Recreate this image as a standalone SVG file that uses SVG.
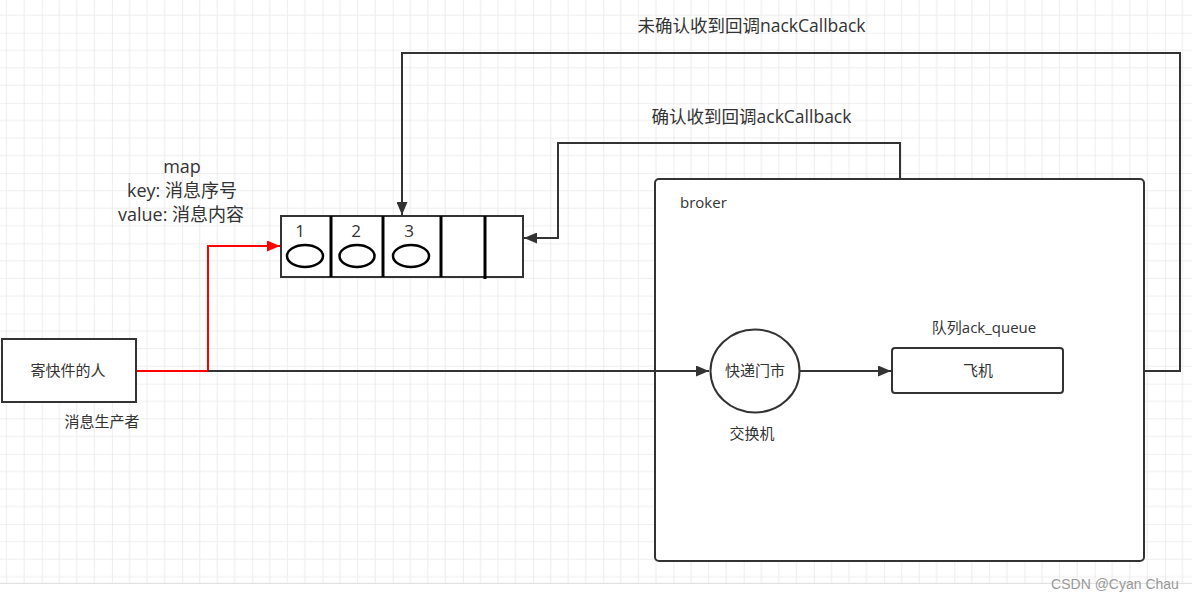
<svg xmlns="http://www.w3.org/2000/svg" width="1192" height="601" viewBox="0 0 1192 601">
<style>
.t{font-family:"Open Sans","Noto Sans CJK SC",sans-serif;fill:#333;}
.ln{fill:none;stroke:#333;stroke-width:2;}
.red{fill:none;stroke:#ff0000;stroke-width:2;}
.box{fill:#fff;stroke:#333;stroke-width:2;}
.div{stroke:#000;stroke-width:3;}
.ell{fill:none;stroke:#000;stroke-width:2.5;}
</style>
<defs>
<pattern id="grid" patternUnits="userSpaceOnUse" x="41.7" y="32.7" width="70.2" height="70.2">
<path d="M17.55,0V70.2M35.1,0V70.2M52.65,0V70.2M0,17.55H70.2M0,35.1H70.2M0,52.65H70.2" stroke="#eeeeee" stroke-width="1.2" fill="none"/>
<path d="M0,0V70.2M0,0H70.2" stroke="#e2e2e2" stroke-width="1.2" fill="none"/>
</pattern>
<marker id="ah" markerUnits="userSpaceOnUse" markerWidth="13" markerHeight="11" refX="13" refY="5.5" orient="auto"><path d="M0,0L13,5.5L0,11z" fill="#333"/></marker>
<marker id="ahr" markerUnits="userSpaceOnUse" markerWidth="13" markerHeight="11" refX="13" refY="5.5" orient="auto"><path d="M0,0L13,5.5L0,11z" fill="#ff0000"/></marker>
</defs>
<rect x="0" y="0" width="1192" height="601" fill="#fff"/>
<rect x="0" y="0" width="1192" height="583" fill="url(#grid)"/>
<line x1="0" y1="583.3" x2="1192" y2="583.3" stroke="#e2e2e2" stroke-width="1.2"/>

<g id="broker">
<rect class="box" x="655" y="179" width="489" height="382" rx="4"/>
<text class="t" x="680" y="208" font-size="15">broker</text>
</g>

<g id="connectors">
<path class="red" d="M136,371H208V246H280" marker-end="url(#ahr)"/>
<path class="ln" d="M208,371H709" marker-end="url(#ah)"/>
<path class="ln" d="M800,371H891" marker-end="url(#ah)"/>
<path class="ln" d="M900,179V143H558V238H524" marker-end="url(#ah)"/>
<path class="ln" d="M1144,371H1180V53H402V215" marker-end="url(#ah)"/>
</g>

<g id="producer">
<rect class="box" x="2" y="339" width="134" height="63"/>
<text class="t" x="68" y="376" font-size="15" text-anchor="middle">寄快件的人</text>
<text class="t" x="102" y="427" font-size="15" text-anchor="middle">消息生产者</text>
</g>

<g id="map">
<text class="t" x="182" y="173" font-size="18" text-anchor="middle">map</text>
<text class="t" x="182" y="197" font-size="18" text-anchor="middle">key: 消息序号</text>
<text class="t" x="181" y="221" font-size="18" text-anchor="middle">value: 消息内容</text>
<rect class="box" x="281" y="216" width="242" height="61"/>
<line class="div" x1="331" y1="216" x2="331" y2="277"/>
<line class="div" x1="383" y1="216" x2="383" y2="277"/>
<line class="div" x1="441" y1="216" x2="441" y2="277"/>
<line class="div" x1="485" y1="216" x2="485" y2="279"/>
<ellipse class="ell" cx="305" cy="256" rx="18" ry="11"/>
<ellipse class="ell" cx="357" cy="256" rx="17.5" ry="11"/>
<ellipse class="ell" cx="411" cy="256" rx="18" ry="11"/>
<text class="t" x="300" y="237" font-size="17" text-anchor="middle">1</text>
<text class="t" x="356" y="237" font-size="17" text-anchor="middle">2</text>
<text class="t" x="409" y="237" font-size="17" text-anchor="middle">3</text>
</g>

<g id="exchange">
<ellipse class="box" cx="755" cy="371" rx="44.5" ry="41.5"/>
<text class="t" x="755" y="376" font-size="15" text-anchor="middle">快递门市</text>
<text class="t" x="752" y="439" font-size="15" text-anchor="middle">交换机</text>
</g>

<g id="queue">
<text class="t" x="984" y="333" font-size="15" text-anchor="middle">队列ack_queue</text>
<rect class="box" x="892" y="348" width="171" height="45" rx="3"/>
<text class="t" x="978" y="376" font-size="15" text-anchor="middle">飞机</text>
</g>

<g id="labels">
<text class="t" x="751.5" y="32" font-size="17.5" text-anchor="middle">未确认收到回调nackCallback</text>
<text class="t" x="751.5" y="123" font-size="17.5" text-anchor="middle">确认收到回调ackCallback</text>
<text x="1115" y="589" font-size="14" text-anchor="middle" fill="#999" font-family="Liberation Sans, Arial, sans-serif">CSDN @Cyan Chau</text>
</g>
</svg>
